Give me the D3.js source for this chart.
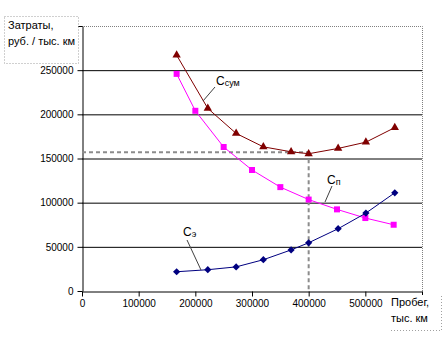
<!DOCTYPE html>
<html>
<head>
<meta charset="utf-8">
<script src="https://cdn.jsdelivr.net/npm/d3@7/dist/d3.min.js"></script>
<style>
  html, body { margin: 0; padding: 0; background: #fff; }
  svg { display: block; font-family: "Liberation Sans", Arial, sans-serif; }
</style>
</head>
<body>
<svg id="chart" width="448" height="337"></svg>
<script>
// Mileage (km) for the operating-cost and total-cost series
const mileageE = [167000, 222000, 272000, 320000, 369000, 400000, 452000, 501000, 552000];
// Operating costs Сэ
const costE = [21800, 24100, 27300, 35400, 46500, 54600, 70500, 88200, 111200];
// Total costs Ссум
const costSum = [267000, 206700, 178400, 163200, 157600, 155400, 161400, 168500, 185000];
// Mileage for the depreciation series
const mileageP = [167000, 200000, 250000, 300000, 350000, 400000, 450000, 500000, 550000];
// Depreciation costs Сп
const costP = [245800, 204000, 163000, 137000, 117600, 103500, 92400, 82600, 75000];

const yTicks = [0, 50000, 100000, 150000, 200000, 250000, 300000];
const xTicks = [0, 100000, 200000, 300000, 400000, 500000, 600000];
// Optimum point marked with guide lines
const optimum = { x: 400000, y: 157000 };

const svg = d3.select("#chart");
const x = d3.scaleLinear().domain([0, 600000]).range([82, 422]);
const y = d3.scaleLinear().domain([0, 300000]).range([291, 26]);

// Horizontal gridlines
svg.append("g").selectAll("line")
  .data(yTicks.filter(v => v > 0 && v < 300000))
  .join("line")
  .attr("x1", x(0)).attr("x2", x(600000))
  .attr("y1", d => y(d) + 0.5).attr("y2", d => y(d) + 0.5)
  .attr("stroke", "#000").attr("stroke-width", 1);

// Plot area border (top and right), dotted
svg.append("path")
  .attr("d", `M${x(0)},${y(300000) + 0.5}H${x(600000) + 0.5}V${y(0)}`)
  .attr("fill", "none").attr("stroke", "#808080")
  .attr("stroke-dasharray", "1,1").attr("stroke-width", 1);

// Axes: the outermost labels sit under the title boxes, so they are left blank
const fmt = d3.format("d");
const yAxis = svg.append("g")
  .attr("transform", `translate(${x(0) + 0.5},0)`)
  .call(d3.axisLeft(y).tickValues(yTicks).tickFormat(d => d === 300000 ? "" : fmt(d))
    .tickSize(5).tickPadding(4).tickSizeOuter(0));
const xAxis = svg.append("g")
  .attr("transform", `translate(0,${y(0) + 0.5})`)
  .call(d3.axisBottom(x).tickValues(xTicks).tickFormat(d => d === 600000 ? "" : fmt(d))
    .tickSize(5).tickPadding(3).tickSizeOuter(0));
[yAxis, xAxis].forEach(g => {
  g.select(".domain").attr("stroke", "#000");
  g.selectAll(".tick line").attr("stroke", "#000");
  g.selectAll(".tick text").attr("fill", "#000")
    .style("font-family", "'Liberation Sans', Arial, sans-serif").style("font-size", "10px");
});

// Guide lines to the optimum
const guide = svg.append("g").attr("stroke", "#8c8c8c").attr("stroke-width", 2)
  .attr("stroke-dasharray", "4,3").attr("fill", "none");
guide.append("line")
  .attr("x1", x(0)).attr("x2", x(optimum.x))
  .attr("y1", y(optimum.y)).attr("y2", y(optimum.y));
guide.append("line")
  .attr("x1", x(optimum.x)).attr("x2", x(optimum.x))
  .attr("y1", y(optimum.y)).attr("y2", y(0));

// Square diamond marker (square turned by 45°)
const symbolRhomb = {
  draw(context, size) {
    const r = Math.sqrt(size / 2);
    context.moveTo(0, -r);
    context.lineTo(r, 0);
    context.lineTo(0, r);
    context.lineTo(-r, 0);
    context.closePath();
  }
};

// Series lines and markers
const line = d3.line().x(d => x(d[0])).y(d => y(d[1]));
const series = [
  { xs: mileageP, ys: costP, color: "#ff00ff", symbol: d3.symbolSquare, size: 36 },
  { xs: mileageE, ys: costE, color: "#000080", symbol: symbolRhomb, size: 26 },
  { xs: mileageE, ys: costSum, color: "#800000", symbol: d3.symbolTriangle, size: 30 }
];
series.forEach(s => {
  const pts = s.xs.map((v, i) => [v, s.ys[i]]);
  svg.append("path").datum(pts)
    .attr("d", line).attr("fill", "none")
    .attr("stroke", s.color).attr("stroke-width", 1);
  svg.append("g").selectAll("path").data(pts).join("path")
    .attr("transform", d => `translate(${x(d[0])},${y(d[1])})`)
    .attr("d", d3.symbol().type(s.symbol).size(s.size))
    .attr("fill", s.color);
});

// Series labels with leader lines
const labels = [
  { main: "С", sub: "сум", tx: 216, ty: 85, lx1: 215, ly1: 87, lx2: 203, ly2: 101 },
  { main: "С", sub: "п", tx: 327, ty: 184, lx1: 332, ly1: 186, lx2: 325, ly2: 202 },
  { main: "С", sub: "э", tx: 183, ty: 236, lx1: 187, ly1: 240, lx2: 201, ly2: 270 }
];
labels.forEach(l => {
  svg.append("line")
    .attr("x1", l.lx1).attr("y1", l.ly1).attr("x2", l.lx2).attr("y2", l.ly2)
    .attr("stroke", "#404040").attr("stroke-width", 1);
  const t = svg.append("text").attr("x", l.tx).attr("y", l.ty)
    .attr("fill", "#000").style("font-size", "12px");
  t.append("tspan").text(l.main);
  t.append("tspan").attr("dy", 1).style("font-size", "9px").text(l.sub);
});

// Axis title boxes
function titleBox(bx, by, bw, bh, lines, tx, ty0, lh, sides) {
  const g = svg.append("g");
  g.append("rect").attr("x", bx).attr("y", by).attr("width", bw).attr("height", bh)
    .attr("fill", "#fff");
  g.append("path").attr("d", sides).attr("fill", "none")
    .attr("stroke", "#a0a0a0").attr("stroke-dasharray", "1,2").attr("stroke-width", 1);
  lines.forEach((s, i) => {
    g.append("text").attr("x", tx).attr("y", ty0 + i * lh)
      .attr("fill", "#000").style("font-size", "11px").text(s);
  });
}
titleBox(4, 16, 74, 47, ["Затраты,", "руб. / тыс. км"], 8, 29, 16,
  "M4.5,16.5H78.5V63.5H4.5Z");
titleBox(389, 295, 53, 36, ["Пробег,", "тыс. км"], 391, 306, 16,
  "M441.5,296V330.5H390");
</script>
</body>
</html>
